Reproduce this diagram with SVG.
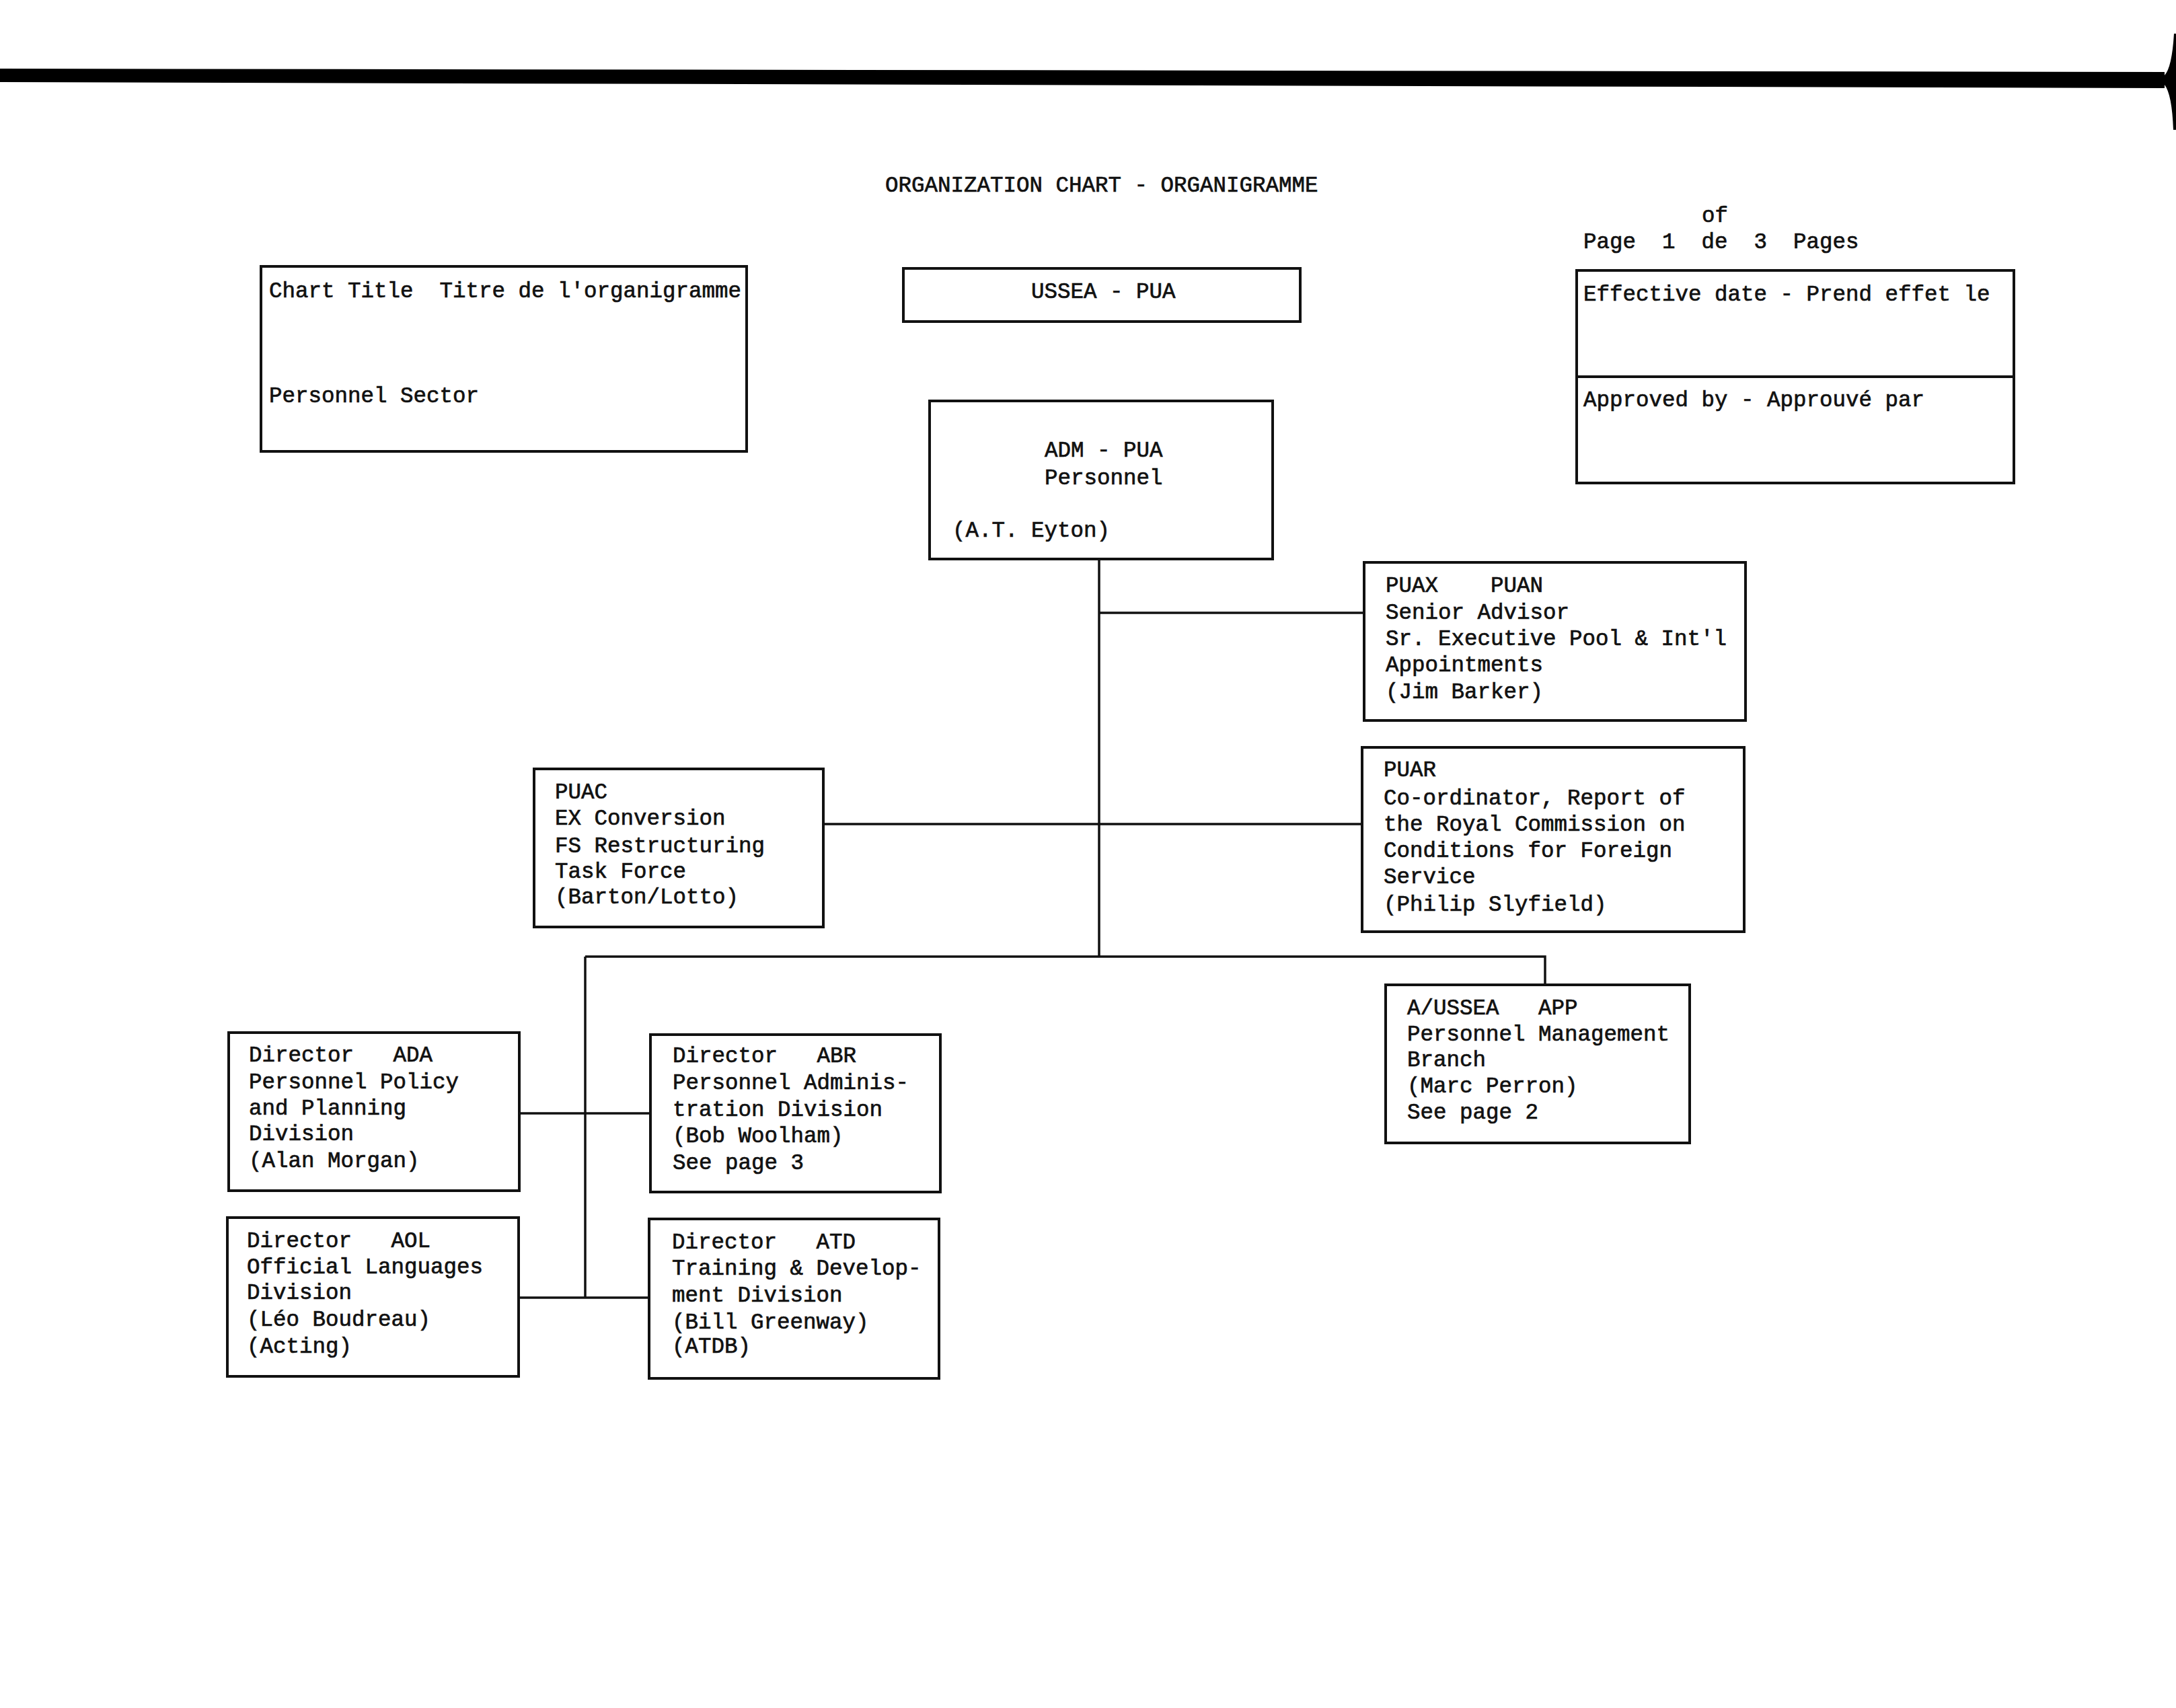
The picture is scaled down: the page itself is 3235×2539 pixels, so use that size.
<svg xmlns="http://www.w3.org/2000/svg" width="3235" height="2539" viewBox="0 0 3235 2539">
<style>
  .box { fill: none; stroke: #111; stroke-width: 4; }
  .ln { fill: none; stroke: #111; stroke-width: 3.5; }
  text { font-family: "Liberation Mono", "DejaVu Sans Mono", monospace; font-size: 32.5px; fill: #111; stroke: #111; stroke-width: 0.7; white-space: pre; }
</style>
<rect width="3235" height="2539" fill="#fff"/>
<g id="page-border">
  <polygon points="0,102 3218,107 3218,131 0,122" fill="#000"/>
  <path d="M3235,50 L3232,50 Q3229,100 3218,112 L3218,126 Q3229,140 3231,193 L3235,193 Z" fill="#000"/>
</g>
<g id="header">
  <text x="1316" y="285" xml:space="preserve">ORGANIZATION CHART - ORGANIGRAMME</text>
  <text x="2530" y="330" xml:space="preserve">of</text>
  <text x="2354" y="369" xml:space="preserve">Page  1  de  3  Pages</text>
</g>
<g id="chart-title">
  <rect class="box" x="388" y="396" width="722" height="275"/>
  <text x="400" y="442" xml:space="preserve">Chart Title  Titre de l'organigramme</text>
  <text x="400" y="598" xml:space="preserve">Personnel Sector</text>
</g>
<g id="ussea">
  <rect class="box" x="1343" y="399" width="590" height="79"/>
  <text x="1533" y="443" xml:space="preserve">USSEA - PUA</text>
</g>
<g id="effective">
  <rect class="box" x="2344" y="402" width="650" height="316"/>
  <line class="box" x1="2344" y1="560" x2="2994" y2="560"/>
  <text x="2354" y="447" xml:space="preserve">Effective date - Prend effet le</text>
  <text x="2354" y="604" xml:space="preserve">Approved by - Approuvé par</text>
</g>
<g id="connectors">
  <path class="ln" d="M1634 831 V1422"/>
  <path class="ln" d="M1634 911 H2028"/>
  <path class="ln" d="M1224 1225 H2025"/>
  <path class="ln" d="M870 1422 H2297 V1464"/>
  <path class="ln" d="M870 1422 V1929"/>
  <path class="ln" d="M772 1655 H967"/>
  <path class="ln" d="M771 1929 H965"/>
</g>
<g id="adm">
  <rect class="box" x="1382" y="596" width="510" height="235"/>
  <text x="1553" y="679" xml:space="preserve">ADM - PUA</text>
  <text x="1553" y="720" xml:space="preserve">Personnel</text>
  <text x="1416" y="798" xml:space="preserve">(A.T. Eyton)</text>
</g>
<g id="puax">
  <rect class="box" x="2028" y="836" width="567" height="235"/>
  <text x="2060" y="880" xml:space="preserve">PUAX    PUAN</text>
  <text x="2060" y="920" xml:space="preserve">Senior Advisor</text>
  <text x="2060" y="959" xml:space="preserve">Sr. Executive Pool &amp; Int'l</text>
  <text x="2060" y="998" xml:space="preserve">Appointments</text>
  <text x="2060" y="1038" xml:space="preserve">(Jim Barker)</text>
</g>
<g id="puar">
  <rect class="box" x="2025" y="1111" width="568" height="274"/>
  <text x="2057" y="1154" xml:space="preserve">PUAR</text>
  <text x="2057" y="1196" xml:space="preserve">Co-ordinator, Report of</text>
  <text x="2057" y="1235" xml:space="preserve">the Royal Commission on</text>
  <text x="2057" y="1274" xml:space="preserve">Conditions for Foreign</text>
  <text x="2057" y="1313" xml:space="preserve">Service</text>
  <text x="2057" y="1354" xml:space="preserve">(Philip Slyfield)</text>
</g>
<g id="puac">
  <rect class="box" x="794" y="1143" width="430" height="235"/>
  <text x="825" y="1187" xml:space="preserve">PUAC</text>
  <text x="825" y="1226" xml:space="preserve">EX Conversion</text>
  <text x="825" y="1267" xml:space="preserve">FS Restructuring</text>
  <text x="825" y="1305" xml:space="preserve">Task Force</text>
  <text x="825" y="1343" xml:space="preserve">(Barton/Lotto)</text>
</g>
<g id="app">
  <rect class="box" x="2060" y="1464" width="452" height="235"/>
  <text x="2092" y="1508" xml:space="preserve">A/USSEA   APP</text>
  <text x="2092" y="1547" xml:space="preserve">Personnel Management</text>
  <text x="2092" y="1585" xml:space="preserve">Branch</text>
  <text x="2092" y="1624" xml:space="preserve">(Marc Perron)</text>
  <text x="2092" y="1663" xml:space="preserve">See page 2</text>
</g>
<g id="ada">
  <rect class="box" x="340" y="1535" width="432" height="235"/>
  <text x="370" y="1578" xml:space="preserve">Director   ADA</text>
  <text x="370" y="1618" xml:space="preserve">Personnel Policy</text>
  <text x="370" y="1657" xml:space="preserve">and Planning</text>
  <text x="370" y="1695" xml:space="preserve">Division</text>
  <text x="370" y="1735" xml:space="preserve">(Alan Morgan)</text>
</g>
<g id="abr">
  <rect class="box" x="967" y="1538" width="431" height="234"/>
  <text x="1000" y="1579" xml:space="preserve">Director   ABR</text>
  <text x="1000" y="1619" xml:space="preserve">Personnel Adminis-</text>
  <text x="1000" y="1659" xml:space="preserve">tration Division</text>
  <text x="1000" y="1698" xml:space="preserve">(Bob Woolham)</text>
  <text x="1000" y="1738" xml:space="preserve">See page 3</text>
</g>
<g id="aol">
  <rect class="box" x="338" y="1810" width="433" height="236"/>
  <text x="367" y="1854" xml:space="preserve">Director   AOL</text>
  <text x="367" y="1893" xml:space="preserve">Official Languages</text>
  <text x="367" y="1931" xml:space="preserve">Division</text>
  <text x="367" y="1971" xml:space="preserve">(Léo Boudreau)</text>
  <text x="367" y="2011" xml:space="preserve">(Acting)</text>
</g>
<g id="atd">
  <rect class="box" x="965" y="1812" width="431" height="237"/>
  <text x="999" y="1856" xml:space="preserve">Director   ATD</text>
  <text x="999" y="1895" xml:space="preserve">Training &amp; Develop-</text>
  <text x="999" y="1935" xml:space="preserve">ment Division</text>
  <text x="999" y="1975" xml:space="preserve">(Bill Greenway)</text>
  <text x="999" y="2011" xml:space="preserve">(ATDB)</text>
</g>
</svg>
